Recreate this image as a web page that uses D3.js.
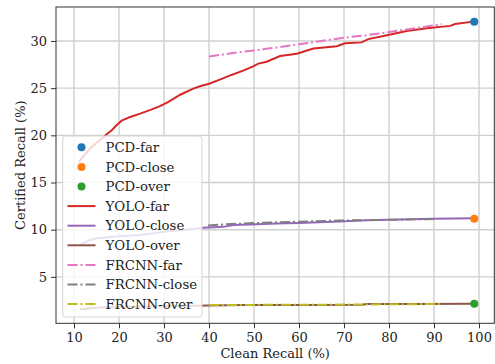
<!DOCTYPE html>
<html>
<head>
<meta charset="utf-8">
<script src="https://cdn.jsdelivr.net/npm/d3@7"></script>
<style>
  body { margin: 0; background: #fff; }
  svg text { font-family: "DejaVu Serif", serif; fill: #222; }
</style>
</head>
<body>
<svg id="viz" width="495" height="364"></svg>
<script>
// ---- data ----
var yoloFarX = [11.1,12.5,14,15.5,17,18.5,19.5,20.6,22.5,24.7,27,29.1,31,33.6,36.5,38,40.2,42.4,45,47.6,49.8,51,52.8,55.8,59.5,63.2,68.4,70.2,73.9,75.4,79,82.4,83.9,88.4,93.6,94.7,98.7]
var yoloFarY = [17.2,18.0,18.8,19.4,20.0,20.6,21.1,21.55,21.95,22.3,22.7,23.1,23.55,24.3,24.95,25.2,25.5,25.9,26.4,26.85,27.3,27.6,27.8,28.4,28.65,29.2,29.45,29.75,29.85,30.2,30.55,30.9,31.05,31.35,31.6,31.8,32.05]

var yoloCloseX = [11.3,13,15,20,24.7,30.6,35,38.7,43.2,45.4,49.1,55,60,69.1,75,80,90,98.7]
var yoloCloseY = [8.4,8.8,9.1,9.3,9.45,9.8,10.0,10.2,10.3,10.5,10.55,10.65,10.7,10.86,11.0,11.05,11.15,11.2]

var yoloOverX = [11.3,15.8,20,30,40,48,60,74,75,85,98.7]
var yoloOverY = [1.57,1.75,1.8,1.9,1.97,2.03,2.03,2.05,2.12,2.12,2.14]

var frcnnFarX = [40,45,50,55,60,65,70,75,80,85,88,91.7]
var frcnnFarY = [28.35,28.7,29.0,29.3,29.65,30.0,30.35,30.6,30.95,31.3,31.5,31.8]

var frcnnCloseX = [39.8,45,50,60,69.1,80,90.6]
var frcnnCloseY = [10.45,10.6,10.7,10.85,10.97,11.05,11.14]

var frcnnOverX = [40,50,60,70,80,91.3]
var frcnnOverY = [2.02,2.03,2.05,2.06,2.1,2.12]

var pcdX = [98.95, 98.95, 98.95]
var pcdY = [32.05, 11.15, 2.14]

var xTicks = [10,20,30,40,50,60,70,80,90,100]
var yTicks = [5,10,15,20,25,30]
var legendLabels = ["PCD-far","PCD-close","PCD-over","YOLO-far","YOLO-close","YOLO-over","FRCNN-far","FRCNN-close","FRCNN-over"]

// tab10 colours
var pcdColors = ["#1f77b4","#ff7f0e","#2ca02c"]
var yoloColors = ["#d62728","#9467bd","#8c564b"]
var frcnnColors = ["#e377c2","#7f7f7f","#bcbd22"]
var dashDot = "10,3,2,3"
var serif = "DejaVu Serif"

var svg = d3.select("#viz")
var mLeft = 56, mRight = 494.3, mTop = 7, mBottom = 323.3

var x = d3.scaleLinear().domain([6, 103.4]).range([mLeft, mRight])
var y = d3.scaleLinear().domain([0.08, 33.6]).range([mBottom, mTop])

// grid
svg.append("g").selectAll("line").data(xTicks).join("line")
  .attr("x1", d => x(d)).attr("x2", d => x(d))
  .attr("y1", mTop).attr("y2", mBottom)
  .style("stroke", "#d0d0d0").style("stroke-width", 1.4)
svg.append("g").selectAll("line").data(yTicks).join("line")
  .attr("x1", mLeft).attr("x2", mRight)
  .attr("y1", d => y(d)).attr("y2", d => y(d))
  .style("stroke", "#d0d0d0").style("stroke-width", 1.4)

var line = d3.line().x(d => x(d[0])).y(d => y(d[1]))
function zip(a, b) { return a.map((v, i) => [v, b[i]]) }

var yoloSeries = [[yoloFarX, yoloFarY], [yoloCloseX, yoloCloseY], [yoloOverX, yoloOverY]]
var frcnnSeries = [[frcnnFarX, frcnnFarY], [frcnnCloseX, frcnnCloseY], [frcnnOverX, frcnnOverY]]

yoloSeries.forEach((s, i) => {
  svg.append("path").attr("d", line(zip(s[0], s[1])))
    .style("fill", "none").style("stroke", yoloColors[i]).style("stroke-width", 2)
})
frcnnSeries.forEach((s, i) => {
  svg.append("path").attr("d", line(zip(s[0], s[1])))
    .style("fill", "none").style("stroke", frcnnColors[i]).style("stroke-width", 2)
    .style("stroke-dasharray", dashDot)
})
svg.append("g").selectAll("circle").data(pcdX).join("circle")
  .attr("cx", d => x(d)).attr("cy", (d, i) => y(pcdY[i])).attr("r", 4)
  .style("fill", (d, i) => pcdColors[i])

// axes
var xAxis = svg.append("g").attr("transform", `translate(0,${mBottom})`)
  .call(d3.axisBottom(x).tickValues(xTicks).tickSize(5).tickPadding(4))
var yAxis = svg.append("g").attr("transform", `translate(${mLeft},0)`)
  .call(d3.axisLeft(y).tickValues(yTicks).tickSize(5).tickPadding(4))
;[xAxis, yAxis].forEach(g => {
  g.attr("font-family", serif).attr("font-size", 13)
  g.select(".domain").remove()
  g.selectAll("line").style("stroke", "#333")
  g.selectAll("text").style("font-family", serif).style("font-size", "13px").style("fill", "#222")
})
// spines
svg.append("rect").attr("x", mLeft).attr("y", mTop).attr("width", mRight - mLeft).attr("height", mBottom - mTop)
  .style("fill", "none").style("stroke", "#333").style("stroke-width", 1)

svg.append("text").attr("x", (mLeft + mRight) / 2).attr("y", 358)
  .attr("text-anchor", "middle").style("font-size", "13px").text("Clean Recall (%)")
svg.append("text").attr("transform", `translate(25,${(mTop + mBottom) / 2}) rotate(-90)`)
  .attr("text-anchor", "middle").style("font-size", "13px").text("Certified Recall (%)")

// legend
var lg = svg.append("g")
lg.append("rect").attr("x", 62.7).attr("y", 136).attr("width", 139.3).attr("height", 181)
  .attr("rx", 3).style("fill", "#fff").style("fill-opacity", 0.8)
  .style("stroke", "#d6d6d6").style("stroke-width", 1)
var allColors = pcdColors.concat(yoloColors, frcnnColors)
legendLabels.forEach((lab, i) => {
  var cy = 147.3 + i * 19.6
  if (i < 3) {
    lg.append("circle").attr("cx", 81.5).attr("cy", cy).attr("r", 4).style("fill", allColors[i])
  } else {
    lg.append("line").attr("x1", 67.5).attr("x2", 95.5).attr("y1", cy).attr("y2", cy)
      .style("stroke", allColors[i]).style("stroke-width", 2)
      .style("stroke-dasharray", i >= 6 ? dashDot : null)
  }
  lg.append("text").attr("x", 105.5).attr("y", cy).attr("dy", "0.35em")
    .style("font-size", "13.3px").text(lab)
})
</script>
</body>
</html>
